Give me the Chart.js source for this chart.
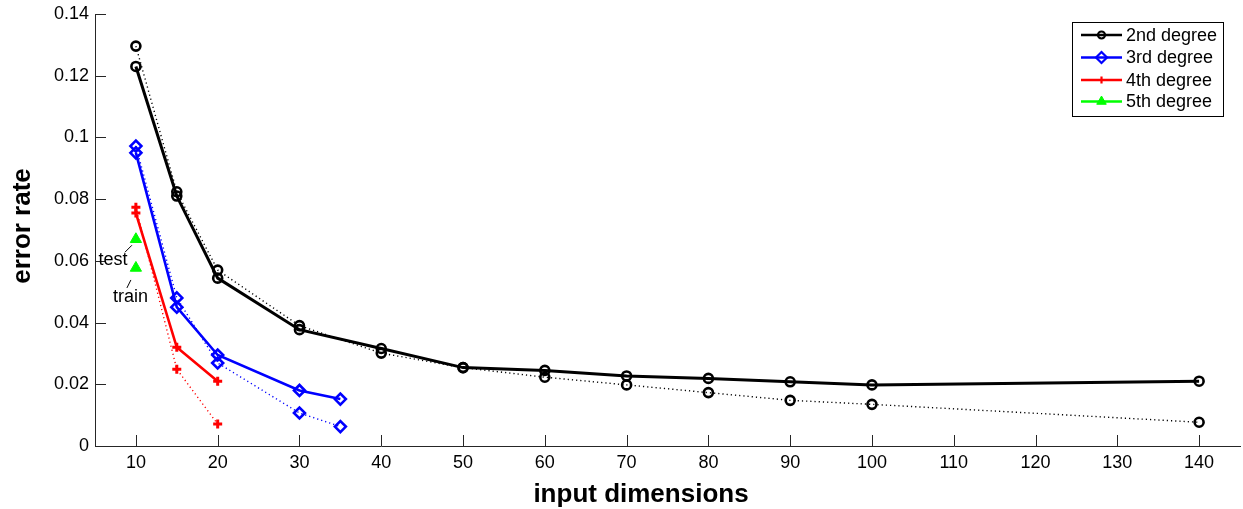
<!DOCTYPE html>
<html>
<head>
<meta charset="utf-8">
<script src="https://cdn.jsdelivr.net/npm/chart.js@4/dist/chart.umd.min.js"></script>
<style>
  html, body { margin: 0; padding: 0; background: #fff; overflow: hidden; }
  #wrap { width: 1243px; height: 509px; }
  canvas { display: block; }
</style>
</head>
<body>
<div id="wrap"><canvas id="c" width="1243" height="509"></canvas></div>
<script>
// ---- data ----
const xDims2 = [10, 15, 20, 30, 40, 50, 60, 70, 80, 90, 100, 140];
const test2  = [0.1230, 0.0810, 0.0544, 0.0377, 0.0316, 0.0254, 0.0245, 0.0227, 0.0219, 0.0208, 0.0198, 0.0210];
const train2 = [0.1296, 0.0824, 0.0570, 0.0390, 0.0301, 0.0254, 0.0223, 0.0198, 0.0173, 0.0148, 0.0135, 0.0077];

const xDims3 = [10, 15, 20, 30, 35];
const test3  = [0.0950, 0.0450, 0.0295, 0.0180, 0.0152];
const train3 = [0.0972, 0.0480, 0.0269, 0.0107, 0.0063];

const xDims4 = [10, 15, 20];
const test4  = [0.0755, 0.0320, 0.0210];
const train4 = [0.0774, 0.0249, 0.0071];

const xDims5 = [10];
const test5  = [0.0670];
const train5 = [0.0577];

const seriesNames = ['2nd degree', '3rd degree', '4th degree', '5th degree'];
const xTicks = [10, 20, 30, 40, 50, 60, 70, 80, 90, 100, 110, 120, 130, 140];
const yTicks = [0, 0.02, 0.04, 0.06, 0.08, 0.1, 0.12, 0.14];
const yTickLabels = ['0', '0.02', '0.04', '0.06', '0.08', '0.1', '0.12', '0.14'];
const xTitle = 'input dimensions';
const yTitle = 'error rate';

// ---- helpers ----
const FONT = '"Liberation Sans", Arial, Helvetica, sans-serif';
function pts(xs, ys) { return xs.map((x, i) => ({ x: x, y: ys[i] })); }

const styles = [
  { color: '#000000', pointStyle: 'circle',  radius: 4.5, bw: 2.6, fill: 'rgba(0,0,0,0)', lw: 3 },
  { color: '#0000ff', pointStyle: 'rectRot', radius: 5.5, bw: 2.6, fill: 'rgba(0,0,0,0)', lw: 2.6 },
  { color: '#ff0000', pointStyle: 'cross',   radius: 4.5, bw: 3,   fill: 'rgba(0,0,0,0)', lw: 2.6 },
  { color: '#00ff00', pointStyle: 'triangle',radius: 6.5, bw: 1,   fill: '#00ff00',       lw: 2.6 }
];

function solidSet(i, data) {
  const s = styles[i];
  return {
    label: seriesNames[i], data: data, showLine: true,
    borderColor: s.color, borderWidth: s.lw, backgroundColor: s.fill,
    pointStyle: s.pointStyle, pointRadius: s.radius, pointBorderWidth: s.bw,
    pointBorderColor: s.color, pointBackgroundColor: s.fill,
    tension: 0, clip: false, isLegend: true
  };
}
function dottedSet(i, data) {
  const s = styles[i];
  return {
    label: seriesNames[i] + ' (train)', data: data, showLine: true,
    borderColor: s.color, borderWidth: 1.4, borderDash: [1.2, 3], backgroundColor: s.fill,
    pointStyle: s.pointStyle, pointRadius: s.radius, pointBorderWidth: s.bw,
    pointBorderColor: s.color, pointBackgroundColor: s.fill,
    tension: 0, clip: false, isLegend: false
  };
}

const datasets = [
  solidSet(0, pts(xDims2, test2)),
  solidSet(1, pts(xDims3, test3)),
  solidSet(2, pts(xDims4, test4)),
  solidSet(3, pts(xDims5, test5)),
  dottedSet(0, pts(xDims2, train2)),
  dottedSet(1, pts(xDims3, train3)),
  dottedSet(2, pts(xDims4, train4)),
  dottedSet(3, pts(xDims5, train5))
];

// ---- plugin: inward ticks, titles, annotations, legend ----
const decor = {
  id: 'decor',
  beforeDatasetsDraw(chart) {
    const ctx = chart.ctx, xs = chart.scales.x, ys = chart.scales.y, ca = chart.chartArea;
    ctx.save();
    ctx.strokeStyle = '#262626';
    ctx.lineWidth = 1;
    ctx.beginPath();
    xTicks.forEach(v => {
      const px = Math.round(xs.getPixelForValue(v)) + 0.5;
      ctx.moveTo(px, ca.bottom); ctx.lineTo(px, ca.bottom - 11);
    });
    yTicks.forEach(v => {
      const py = Math.round(ys.getPixelForValue(v)) + 0.5;
      ctx.moveTo(ca.left, py); ctx.lineTo(ca.left + 11, py);
    });
    ctx.stroke();
    ctx.restore();
  },
  afterDraw(chart) {
    const ctx = chart.ctx, xs = chart.scales.x, ys = chart.scales.y;
    ctx.save();
    // axis titles
    ctx.fillStyle = '#000';
    ctx.font = 'bold 26px ' + FONT;
    ctx.textAlign = 'center';
    ctx.textBaseline = 'middle';
    ctx.fillText(xTitle, 641, 495);
    ctx.save();
    ctx.translate(23, 226);
    ctx.rotate(-Math.PI / 2);
    ctx.fillText(yTitle, 0, 0);
    ctx.restore();

    // annotations for 5th degree
    const tx = xs.getPixelForValue(xDims5[0]);
    const tyTest = ys.getPixelForValue(test5[0]);
    const tyTrain = ys.getPixelForValue(train5[0]);
    ctx.font = '18px ' + FONT;
    ctx.fillStyle = '#000';
    ctx.fillText('test', tx - 23, tyTest + 21);
    ctx.fillText('train', tx - 5.5, tyTrain + 29);
    ctx.strokeStyle = '#000';
    ctx.lineWidth = 1;
    ctx.beginPath();
    ctx.moveTo(tx - 11, tyTest + 13); ctx.lineTo(tx - 4, tyTest + 6);
    ctx.moveTo(tx - 9, tyTrain + 20); ctx.lineTo(tx - 5, tyTrain + 12);
    ctx.stroke();

    // legend
    const bx = 1072.5, by = 22.5, bw = 151, bh = 94;
    ctx.fillStyle = '#fff';
    ctx.fillRect(bx, by, bw, bh);
    ctx.strokeStyle = '#000';
    ctx.lineWidth = 1;
    ctx.strokeRect(bx, by, bw, bh);
    const rows = [35, 57.5, 80, 101.5];
    const legendDs = chart.data.datasets.filter(d => d.isLegend);
    legendDs.forEach((d, i) => {
      const s = styles[i];
      const y = rows[i];
      ctx.strokeStyle = s.color;
      ctx.lineWidth = 2.5;
      ctx.beginPath();
      ctx.moveTo(1081, y); ctx.lineTo(1122, y);
      ctx.stroke();
      ctx.fillStyle = s.fill;
      ctx.strokeStyle = s.color;
      ctx.lineWidth = Math.min(s.bw, 2.2);
      const r = s.pointStyle === 'circle' ? 3.5 : (s.pointStyle === 'cross' ? 3.5 : 5.5);
      Chart.helpers.drawPoint(ctx, { pointStyle: s.pointStyle, radius: r, rotation: 0, borderWidth: s.bw }, 1101.5, y);
      ctx.fillStyle = '#000';
      ctx.font = '18px ' + FONT;
      ctx.textAlign = 'left';
      ctx.textBaseline = 'middle';
      ctx.fillText(d.label, 1126, y + 1);
    });
    ctx.restore();
  }
};

new Chart(document.getElementById('c'), {
  type: 'scatter',
  data: { datasets: datasets },
  options: {
    responsive: false,
    animation: false,
    events: [],
    layout: { autoPadding: false, padding: { top: 14, right: 3, left: 0, bottom: 0 } },
    plugins: { legend: { display: false }, tooltip: { enabled: false } },
    scales: {
      x: {
        type: 'linear', min: 5, max: 145,
        afterBuildTicks: s => { s.ticks = xTicks.map(v => ({ value: v })); },
        afterFit: s => { s.height = 63; s.paddingLeft = 0; s.paddingRight = 0; },
        grid: { display: false, drawTicks: false },
        border: { display: true, color: '#262626', width: 1 },
        ticks: { padding: 6, color: '#000', font: { family: FONT, size: 18 }, maxRotation: 0, autoSkip: false,
                 callback: v => String(v) }
      },
      y: {
        type: 'linear', min: 0, max: 0.14,
        afterBuildTicks: s => { s.ticks = yTicks.map(v => ({ value: v })); },
        afterFit: s => { s.width = 95; s.paddingTop = 0; s.paddingBottom = 0; },
        grid: { display: false, drawTicks: false },
        border: { display: true, color: '#262626', width: 1 },
        ticks: { padding: 6, color: '#000', font: { family: FONT, size: 18 }, autoSkip: false,
                 callback: (v, i) => yTickLabels[i] }
      }
    }
  },
  plugins: [decor]
});
</script>
</body>
</html>
